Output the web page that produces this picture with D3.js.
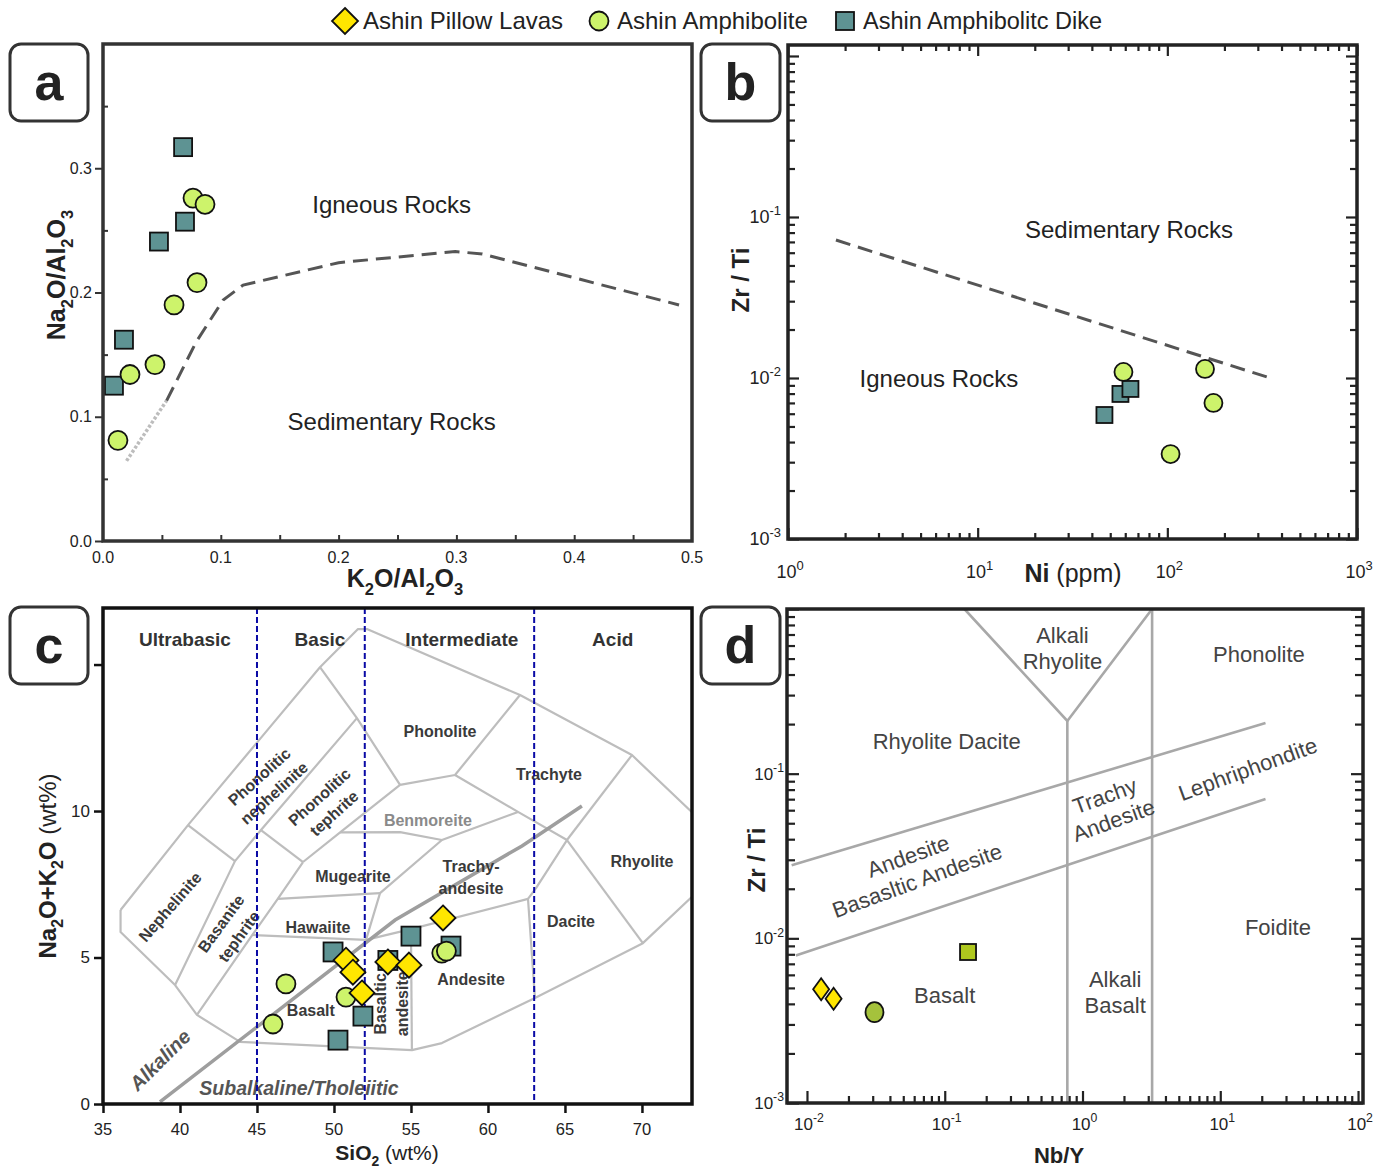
<!DOCTYPE html>
<html><head><meta charset="utf-8">
<script src="https://cdn.jsdelivr.net/npm/d3@7/dist/d3.min.js"></script>
<style>body{margin:0;background:#fff}svg{display:block}</style>
</head><body>
<svg id="chart" width="1383" height="1169"></svg>
<script>
// ================= DATA =================
const legendNames = ["Ashin Pillow Lavas", "Ashin Amphibolite", "Ashin Amphibolitc Dike"];

// Panel a : K2O/Al2O3 vs Na2O/Al2O3
const aDikeK   = [0.068, 0.0475, 0.0696, 0.0178, 0.0093];
const aDikeNa  = [0.317, 0.241, 0.257, 0.162, 0.125];
const aAmphK   = [0.0764, 0.0866, 0.0798, 0.0603, 0.0441, 0.0229, 0.0127];
const aAmphNa  = [0.276, 0.271, 0.208, 0.190, 0.142, 0.134, 0.081];
const aLineK   = [0.054, 0.079, 0.102, 0.119, 0.200, 0.299, 0.322, 0.489];
const aLineNa  = [0.113, 0.160, 0.194, 0.206, 0.224, 0.233, 0.231, 0.190];
const aDotK    = [0.020, 0.054];
const aDotNa   = [0.0645, 0.113];
const aXTickLabels = ["0.0", "0.1", "0.2", "0.3", "0.4", "0.5"];
const aXTickVals   = [0, 0.1, 0.2, 0.3, 0.4, 0.5];
const aYTickLabels = ["0.0", "0.1", "0.2", "0.3"];
const aYTickVals   = [0, 0.1, 0.2, 0.3];

// Panel b : Ni (ppm) vs Zr/Ti
const bAmphNi   = [58.7, 158, 175, 104];
const bAmphZrTi = [0.0109, 0.01138, 0.0070, 0.00337];
const bDikeNi   = [56.6, 63.9, 46.6];
const bDikeZrTi = [0.00796, 0.00855, 0.00589];
const bLineNi   = [1.79, 339];
const bLineZrTi = [0.0719, 0.0101];
const bXExps = [0, 1, 2, 3];
const bYExps = [-3, -2, -1];

// Panel c : TAS
const cLavaSi  = [57.08, 50.78, 51.23, 51.82, 53.5, 54.87];
const cLavaAlk = [6.35, 4.91, 4.5, 3.79, 4.85, 4.74];
const cAmphSi  = [46.88, 46.04, 50.78, 57.0, 57.3];
const cAmphAlk = [4.1, 2.73, 3.65, 5.15, 5.22];
const cDikeSi  = [49.94, 55.0, 57.6, 51.88, 50.26, 53.5];
const cDikeAlk = [5.19, 5.73, 5.39, 3.0, 2.18, 4.9];
const cXTicks = [35, 40, 45, 50, 55, 60, 65, 70];
const cYTicks = [0, 5, 10, 15];
const cYTickLabels = ["0", "5", "10", ""];
const cBoundSi = [45, 52, 63];
const cBoundNames = ["Ultrabasic", "Basic", "Intermediate", "Acid"];
const cBoundNameSi = [40.32, 49.09, 58.3, 68.1];
const cDividerSi  = [38.7, 53.97, 62.21, 66.1];
const cDividerAlk = [0.07, 6.28, 8.81, 10.17];
const tasV = {
  A:[36.14,6.62], B:[36.14,5.87], C:[39.68,4.06], D:[41.10,3.04], E:[43.90,2.12],
  F:[55.06,1.84], G:[57.01,2.08], H:[63.05,3.62], I:[70.06,5.49], J:[73.44,7.17],
  K:[40.52,9.52], L:[49.09,14.91], M:[51.56,16.21], N:[52.14,16.21], O:[62.08,13.96],
  P:[69.35,11.91], Q:[73.44,9.86], R:[43.57,8.29], S:[51.49,13.17], T:[45.26,9.35],
  U:[47.99,8.26], W:[54.29,10.89], X:[57.86,11.23], Y:[65.13,9.01],
  Bm1:[50.4,9.27], Bm2:[54.29,9.28], Bm3:[57.01,9.01], Bm4:[61.95,9.97],
  Mu1:[46.35,7.0], Mu2:[52.99,7.2], V:[52.08,5.6], Hw:[44.7,5.77], BA:[55.0,5.97],
  Z1:[62.6,7.0], Z2:[63.12,7.37]
};
const tasLines = [
  ["A","K","L","M","N","O","P","Q"],
  ["A","B","C","D","E","F","G","H","I","J"],
  ["L","S","W"], ["S","T","R","C"], ["K","R"], ["T","U"], ["U","Bm1","W"], ["W","X"],
  ["O","X"], ["X","Bm4","Y"], ["P","Y"], ["Y","I"], ["Y","Z2","Z1","H"],
  ["Bm1","Bm2","Bm3","Bm4"], ["U","Mu1","Hw","D"], ["Mu1","Mu2"], ["Bm3","Mu2","V"],
  ["Hw","V"], ["V","BA","Z1"], ["BA","F"]
];
const tasLabels = [
  {t:["Phonolite"], si:56.88, alk:12.73, rot:0},
  {t:["Trachyte"], si:63.96, alk:11.26, rot:0},
  {t:["Mugearite"], si:51.23, alk:7.78, rot:0},
  {t:["Trachy-","andesite"], si:58.9, alk:7.75, rot:0},
  {t:["Rhyolite"], si:70.0, alk:8.29, rot:0},
  {t:["Dacite"], si:65.39, alk:6.25, rot:0},
  {t:["Hawaiite"], si:48.96, alk:6.04, rot:0},
  {t:["Andesite"], si:58.9, alk:4.27, rot:0},
  {t:["Basalt"], si:48.5, alk:3.21, rot:0},
  {t:["Phonolitic","nephelinite"], si:45.63, alk:10.89, rot:-42},
  {t:["Phonolitic","tephrite"], si:49.53, alk:10.2, rot:-42},
  {t:["Nephelinite"], si:39.35, alk:6.73, rot:-49},
  {t:["Basanite","tephrite"], si:43.25, alk:5.94, rot:-54},
  {t:["Basaltic","andesite"], si:53.7, alk:3.42, rot:-90}
];

// Panel d : Nb/Y vs Zr/Ti
const dLavaNbY  = [0.01267, 0.0156];
const dLavaZrTi = [0.00491, 0.0043];
const dAmphNbY  = [0.0309];
const dAmphZrTi = [0.00356];
const dDikeNbY  = [0.1476];
const dDikeZrTi = [0.00826];
const dLines = [
  [[0.776,0.001],[0.776,0.209]],
  [[0.139,1],[0.776,0.209],[3.2,1]],
  [[3.2,0.001],[3.2,1]],
  [[0.00774,0.0278],[21.3,0.203]],
  [[0.0083,0.00787],[21.3,0.0702]]
];
const dLabels = [
  {t:["Alkali","Rhyolite"], nby:0.715, zrti:0.58, rot:0},
  {t:["Phonolite"], nby:19.1, zrti:0.532, rot:0},
  {t:["Rhyolite Dacite"], nby:0.1033, zrti:0.158, rot:0},
  {t:["Trachy","Andesite"], nby:1.563, zrti:0.0618, rot:-20},
  {t:["Lephriphondite"], nby:15.86, zrti:0.1067, rot:-20},
  {t:["Andesite","Basasltic Andesite"], nby:0.0585, zrti:0.0266, rot:-20},
  {t:["Foidite"], nby:26.2, zrti:0.01172, rot:0},
  {t:["Basalt"], nby:0.0999, zrti:0.00453, rot:0},
  {t:["Alkali","Basalt"], nby:1.727, zrti:0.00472, rot:0}
];
const dXExps = [-2, -1, 0, 1, 2];
const dYExps = [-3, -2, -1];

// ================= STYLE =================
const F = "'Liberation Sans', Arial, Helvetica, sans-serif";
const colLava = "#ffe600", colAmph = "#cdf36b", colDike = "#5e9393";
const svg = d3.select("#chart");

function rich(text, parts, size) {
  let off = 0;
  parts.forEach(p => {
    const shift = p.sub ? size * 0.3 : p.sup ? -size * 0.45 : 0;
    const ts = text.append("tspan").attr("dy", (shift - off).toFixed(2))
      .attr("font-size", (p.sub || p.sup) ? size * 0.66 : size).text(p.t);
    if (p.w) ts.attr("font-weight", p.w);
    off = shift;
  });
}
function ticks(parent, orient, scale, vals, offset, size, color, width) {
  const fn = {bottom:d3.axisBottom, left:d3.axisLeft, top:d3.axisTop, right:d3.axisRight}[orient];
  const g = parent.append("g")
    .attr("transform", (orient === "bottom" || orient === "top") ? `translate(0,${offset})` : `translate(${offset},0)`)
    .call(fn(scale).tickValues(vals).tickSize(size).tickFormat(""));
  g.select(".domain").remove();
  g.selectAll("line").attr("stroke", color).attr("stroke-width", width);
  g.selectAll("text").remove();
}
function logVals(e0, e1) {
  const out = [];
  for (let e = e0; e < e1; e++) for (let m = 1; m < 10; m++) out.push(m * Math.pow(10, e));
  out.push(Math.pow(10, e1));
  return out;
}
const isDecade = v => Math.abs(Math.log10(v) - Math.round(Math.log10(v))) < 1e-9;
function diamond(g, x, y, hw, hh, fill) {
  g.append("path").attr("d", `M${x},${y-hh}L${x+hw},${y}L${x},${y+hh}L${x-hw},${y}Z`)
    .attr("fill", fill).attr("stroke", "#111").attr("stroke-width", 1.8);
}
function circle(g, x, y, rx, ry, fill) {
  g.append("ellipse").attr("cx", x).attr("cy", y).attr("rx", rx).attr("ry", ry)
    .attr("fill", fill).attr("stroke", "#111").attr("stroke-width", 1.8);
}
function square(g, x, y, s, fill) {
  g.append("rect").attr("x", x - s/2).attr("y", y - s/2).attr("width", s).attr("height", s)
    .attr("fill", fill).attr("stroke", "#111").attr("stroke-width", 1.8);
}
function frame(x0, y0, x1, y1, col) {
  svg.append("rect").attr("x", x0).attr("y", y0).attr("width", x1 - x0).attr("height", y1 - y0)
    .attr("fill", "none").attr("stroke", col).attr("stroke-width", 3.5);
}
function tag(x, y, w, h, letter) {
  svg.append("rect").attr("x", x).attr("y", y).attr("width", w).attr("height", h).attr("rx", 11)
    .attr("fill", "#fff").attr("stroke", "#333").attr("stroke-width", 3);
  svg.append("text").attr("x", x + w/2).attr("y", y + h/2).attr("dy", "0.33em")
    .attr("text-anchor", "middle").attr("font-family", F).attr("font-weight", "bold")
    .attr("font-size", 52).attr("fill", "#222").text(letter);
}
function label(g, lines, x, y, rot, opts) {
  const size = opts.size, lh = opts.lh || size * 1.1;
  const t = g.append("text").attr("transform", `translate(${x},${y}) rotate(${rot})`)
    .attr("text-anchor", "middle").attr("font-family", opts.family || F)
    .attr("font-size", size).attr("font-weight", opts.weight || "normal")
    .attr("font-style", opts.style || "normal").attr("fill", opts.fill || "#222");
  lines.forEach((ln, i) => {
    t.append("tspan").attr("x", 0).attr("y", (i - (lines.length - 1) / 2) * lh).attr("dy", "0.35em").text(ln);
  });
  return t;
}
function powLabel(g, x, y, exp, size, anchor) {
  const t = g.append("text").attr("x", x).attr("y", y).attr("text-anchor", anchor)
    .attr("font-family", F).attr("fill", "#222").attr("font-size", size);
  t.append("tspan").text("10");
  t.append("tspan").attr("dy", -size * 0.45).attr("font-size", size * 0.72).text(String(exp));
}

// ================= LEGEND =================
const lg = svg.append("g");
diamond(lg, 345, 21, 13, 13, colLava);
lg.append("text").attr("x", 363).attr("y", 29).attr("font-family", F).attr("font-size", 24).attr("fill", "#222").text(legendNames[0]);
circle(lg, 599, 21, 9.5, 9.5, colAmph);
lg.append("text").attr("x", 617).attr("y", 29).attr("font-family", F).attr("font-size", 24).attr("fill", "#222").text(legendNames[1]);
square(lg, 845, 21, 18, colDike);
lg.append("text").attr("x", 863).attr("y", 29).attr("font-family", F).attr("font-size", 23.5).attr("fill", "#222").text(legendNames[2]);

// ================= PANEL A =================
{
  const g = svg.append("g");
  const x = d3.scaleLinear().domain([0, 0.5]).range([103, 692]);
  const y = d3.scaleLinear().domain([0, 0.4]).range([541, 44]);
  ticks(g, "bottom", x, d3.range(1, 10).map(i => i * 0.05), 541, -6, "#333", 2);
  ticks(g, "left", y, aYTickVals, 103, 8, "#333", 2);
  ticks(g, "left", y, [0.05, 0.15, 0.25, 0.35], 103, -5, "#333", 2);
  aXTickVals.forEach((v, i) => g.append("text").attr("x", x(v)).attr("y", 563).attr("text-anchor", "middle")
    .attr("font-family", F).attr("font-size", 16).attr("fill", "#222").text(aXTickLabels[i]));
  aYTickVals.forEach((v, i) => g.append("text").attr("x", 92).attr("y", y(v)).attr("dy", "0.35em").attr("text-anchor", "end")
    .attr("font-family", F).attr("font-size", 16).attr("fill", "#222").text(aYTickLabels[i]));
  const line = d3.line().x(d => x(d[0])).y(d => y(d[1]));
  g.append("path").attr("d", line(aDotK.map((k, i) => [k, aDotNa[i]]))).attr("fill", "none")
    .attr("stroke", "#bdbdbd").attr("stroke-width", 3.5).attr("stroke-dasharray", "3,2");
  g.append("path").attr("d", line(aLineK.map((k, i) => [k, aLineNa[i]]))).attr("fill", "none")
    .attr("stroke", "#555").attr("stroke-width", 3).attr("stroke-dasharray", "15,8");
  label(g, ["Igneous Rocks"], x(0.245), y(0.271), 0, {size: 24});
  label(g, ["Sedimentary Rocks"], x(0.245), y(0.096), 0, {size: 24});
  aDikeK.forEach((k, i) => square(g, x(k), y(aDikeNa[i]), 18, colDike));
  aAmphK.forEach((k, i) => circle(g, x(k), y(aAmphNa[i]), 9.5, 9.5, colAmph));
  frame(103, 44, 692, 541, "#333");
  const yt = g.append("text").attr("transform", "translate(65,275) rotate(-90)").attr("text-anchor", "middle")
    .attr("font-family", F).attr("font-weight", "bold").attr("fill", "#222");
  rich(yt, [{t:"Na"},{t:"2",sub:1},{t:"O/Al"},{t:"2",sub:1},{t:"O"},{t:"3",sub:1}], 25);
  const xt = g.append("text").attr("x", 405).attr("y", 587).attr("text-anchor", "middle")
    .attr("font-family", F).attr("font-weight", "bold").attr("fill", "#222");
  rich(xt, [{t:"K"},{t:"2",sub:1},{t:"O/Al"},{t:"2",sub:1},{t:"O"},{t:"3",sub:1}], 25);
  tag(10, 44, 78, 77, "a");
}

// ================= PANEL B =================
{
  const g = svg.append("g");
  const x = d3.scaleLog().domain([1, 1000]).range([788, 1357]);
  const y = d3.scaleLog().domain([1e-3, 1.17]).range([539, 45]);
  const xv = logVals(0, 3), yv = logVals(-3, 0).filter(v => v <= 1.17);
  const xMaj = xv.filter(isDecade), xMin = xv.filter(v => !isDecade(v));
  const yMaj = yv.filter(isDecade), yMin = yv.filter(v => !isDecade(v));
  ticks(g, "bottom", x, xMaj, 539, -11, "#222", 2.2);
  ticks(g, "bottom", x, xMin, 539, -6, "#222", 2.2);
  ticks(g, "top", x, xMaj, 45, -11, "#222", 2.2);
  ticks(g, "top", x, xMin, 45, -6, "#222", 2.2);
  ticks(g, "left", y, yMaj, 788, -11, "#222", 2.2);
  ticks(g, "left", y, yMin, 788, -7, "#222", 2.2);
  ticks(g, "right", y, yMaj, 1357, -11, "#222", 2.2);
  ticks(g, "right", y, yMin, 1357, -7, "#222", 2.2);
  bXExps.forEach(e => powLabel(g, x(Math.pow(10, e)) + 2, 578, e, 18, "middle"));
  bYExps.forEach(e => powLabel(g, 781, y(Math.pow(10, e)) + 6, e, 18, "end"));
  const line = d3.line().x(d => x(d[0])).y(d => y(d[1]));
  g.append("path").attr("d", line(bLineNi.map((v, i) => [v, bLineZrTi[i]]))).attr("fill", "none")
    .attr("stroke", "#555").attr("stroke-width", 3).attr("stroke-dasharray", "15,8");
  label(g, ["Sedimentary Rocks"], x(62.8), y(0.083), 0, {size: 24});
  label(g, ["Igneous Rocks"], x(6.25), y(0.00986), 0, {size: 24});
  bDikeNi.forEach((v, i) => square(g, x(v), y(bDikeZrTi[i]), 16, colDike));
  bAmphNi.forEach((v, i) => circle(g, x(v), y(bAmphZrTi[i]), 9, 9, colAmph));
  frame(788, 45, 1357, 539, "#222");
  g.append("text").attr("transform", "translate(749,280) rotate(-90)").attr("text-anchor", "middle")
    .attr("font-family", F).attr("font-weight", "bold").attr("font-size", 24).attr("fill", "#222").text("Zr / Ti");
  const xt = g.append("text").attr("x", 1073).attr("y", 582).attr("text-anchor", "middle")
    .attr("font-family", F).attr("fill", "#222");
  rich(xt, [{t:"Ni", w:"bold"},{t:" (ppm)", w:"normal"}], 25);
  tag(701, 44, 79, 77, "b");
}

// ================= PANEL C =================
{
  const g = svg.append("g");
  const x = d3.scaleLinear().domain([35, 73.25]).range([103, 692]);
  const y = d3.scaleLinear().domain([0, 16.93]).range([1104, 608]);
  svg.append("clipPath").attr("id", "clipC").append("rect").attr("x", 103).attr("y", 608).attr("width", 589).attr("height", 496);
  const inner = g.append("g").attr("clip-path", "url(#clipC)");
  const line = d3.line().x(d => x(d[0])).y(d => y(d[1]));
  tasLines.forEach(pl => inner.append("path").attr("d", line(pl.map(k => tasV[k]))).attr("fill", "none")
    .attr("stroke", "#bdbdbd").attr("stroke-width", 2.2).attr("stroke-linejoin", "round"));
  inner.append("path").attr("d", line(cDividerSi.map((v, i) => [v, cDividerAlk[i]]))).attr("fill", "none")
    .attr("stroke", "#9e9e9e").attr("stroke-width", 3.5);
  tasLabels.forEach(l => label(inner, l.t, x(l.si), y(l.alk), l.rot, {size: 16, weight: "bold", fill: "#3a3a3a", lh: 22}));
  label(inner, ["Benmoreite"], x(56.1), y(9.69), 0, {size: 16, fill: "#8a8a8a", weight: "bold"});
  label(inner, ["Alkaline"], x(38.7), y(1.5), -45, {size: 20, weight: "bold", style: "italic", fill: "#555"});
  label(inner, ["Subalkaline/Tholeiitic"], x(47.73), y(0.55), 0, {size: 19.5, weight: "bold", style: "italic", fill: "#555"});
  cBoundNames.forEach((n, i) => label(inner, [n], x(cBoundNameSi[i]), y(15.87), 0, {size: 19, weight: "bold", fill: "#333"}));
  cBoundSi.forEach(v => inner.append("line").attr("x1", x(v)).attr("x2", x(v)).attr("y1", 608).attr("y2", 1104)
    .attr("stroke", "#0a0aa5").attr("stroke-width", 2).attr("stroke-dasharray", "6,3"));
  cDikeSi.forEach((v, i) => square(g, x(v), y(cDikeAlk[i]), 19, colDike));
  cAmphSi.forEach((v, i) => circle(g, x(v), y(cAmphAlk[i]), 9.5, 9.5, colAmph));
  cLavaSi.forEach((v, i) => diamond(g, x(v), y(cLavaAlk[i]), 12.5, 12.5, colLava));
  ticks(g, "bottom", x, cXTicks, 1104, 9, "#111", 2.5);
  ticks(g, "left", y, cYTicks, 103, 9, "#111", 2.5);
  cXTicks.forEach(v => g.append("text").attr("x", x(v)).attr("y", 1135).attr("text-anchor", "middle")
    .attr("font-family", F).attr("font-size", 16.5).attr("fill", "#222").text(v));
  cYTicks.forEach((v, i) => g.append("text").attr("x", 90).attr("y", y(v)).attr("dy", "0.35em").attr("text-anchor", "end")
    .attr("font-family", F).attr("font-size", 17).attr("fill", "#222").text(cYTickLabels[i]));
  frame(103, 608, 692, 1104, "#111");
  const yt = g.append("text").attr("transform", "translate(56,866) rotate(-90)").attr("text-anchor", "middle")
    .attr("font-family", F).attr("fill", "#222");
  rich(yt, [{t:"Na",w:"bold"},{t:"2",sub:1,w:"bold"},{t:"O+K",w:"bold"},{t:"2",sub:1,w:"bold"},{t:"O",w:"bold"},{t:" (wt%)",w:"normal"}], 24);
  const xt = g.append("text").attr("x", 387).attr("y", 1160).attr("text-anchor", "middle")
    .attr("font-family", F).attr("fill", "#222");
  rich(xt, [{t:"SiO",w:"bold"},{t:"2",sub:1,w:"bold"},{t:" (wt%)",w:"normal"}], 21);
  tag(10, 607, 78, 77, "c");
}

// ================= PANEL D =================
{
  const g = svg.append("g");
  const x = d3.scaleLog().domain([Math.pow(10, -2.145), Math.pow(10, 2.036)]).range([787, 1363]);
  const y = d3.scaleLog().domain([1e-3, 1]).range([1103, 609]);
  svg.append("clipPath").attr("id", "clipD").append("rect").attr("x", 787).attr("y", 609).attr("width", 576).attr("height", 494);
  const inner = g.append("g").attr("clip-path", "url(#clipD)");
  const xv = logVals(-2, 2), yv = logVals(-3, 0);
  const xMaj = xv.filter(isDecade), xMin = xv.filter(v => !isDecade(v));
  const yMaj = yv.filter(isDecade), yMin = yv.filter(v => !isDecade(v));
  ticks(g, "bottom", x, xMaj, 1103, -12, "#222", 2.2);
  ticks(g, "bottom", x, xMin, 1103, -7, "#222", 2.2);
  ticks(g, "left", y, yMaj, 787, -12, "#222", 2.2);
  ticks(g, "left", y, yMin, 787, -8, "#222", 2.2);
  ticks(g, "right", y, yMaj, 1363, -12, "#222", 2.2);
  ticks(g, "right", y, yMin, 1363, -8, "#222", 2.2);
  dXExps.forEach(e => powLabel(g, x(Math.pow(10, e)) + 2, 1130, e, 17, "middle"));
  dYExps.forEach(e => powLabel(g, 784, y(Math.pow(10, e)) + 6, e, 17, "end"));
  const line = d3.line().x(d => x(d[0])).y(d => y(d[1]));
  dLines.forEach(pl => inner.append("path").attr("d", line(pl)).attr("fill", "none")
    .attr("stroke", "#a8a8a8").attr("stroke-width", 2.6));
  dLabels.forEach(l => label(inner, l.t, x(l.nby), y(l.zrti), l.rot, {size: 22, fill: "#444", lh: 26}));
  dDikeNbY.forEach((v, i) => square(g, x(v), y(dDikeZrTi[i]), 16, "#afc81e"));
  dAmphNbY.forEach((v, i) => circle(g, x(v), y(dAmphZrTi[i]), 9, 10, "#a5c23c"));
  dLavaNbY.forEach((v, i) => diamond(g, x(v), y(dLavaZrTi[i]), 8, 11, colLava));
  frame(787, 609, 1363, 1103, "#222");
  g.append("text").attr("transform", "translate(765,860) rotate(-90)").attr("text-anchor", "middle")
    .attr("font-family", F).attr("font-weight", "bold").attr("font-size", 24).attr("fill", "#222").text("Zr / Ti");
  g.append("text").attr("x", 1059).attr("y", 1163).attr("text-anchor", "middle")
    .attr("font-family", F).attr("font-weight", "bold").attr("font-size", 22).attr("fill", "#222").text("Nb/Y");
  tag(701, 607, 79, 77, "d");
}
</script>
</body></html>
